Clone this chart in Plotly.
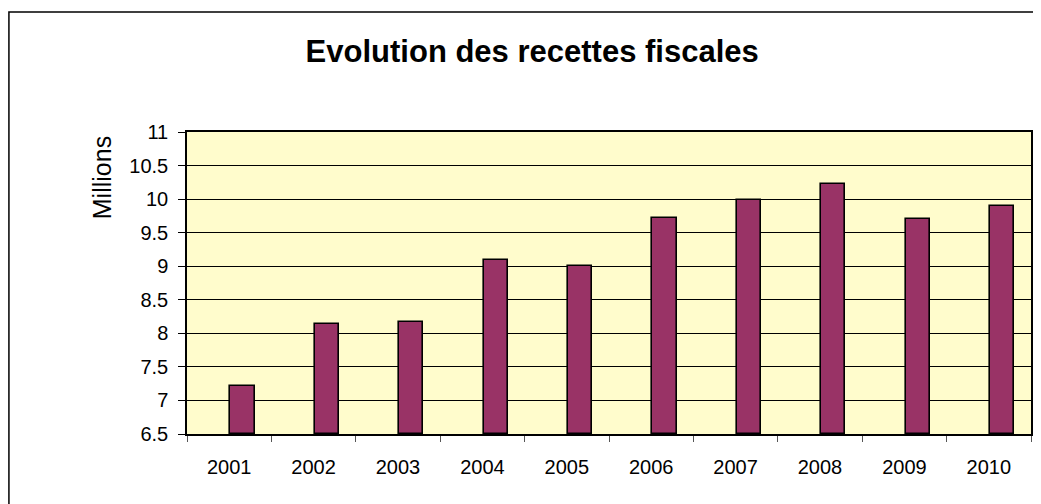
import plotly.graph_objects as go

years = ["2001", "2002", "2003", "2004", "2005", "2006", "2007", "2008", "2009", "2010"]
recettes = [7.22, 8.14, 8.17, 9.10, 9.01, 9.72, 9.99, 10.23, 9.70, 9.90]
y_base = 6.5
y_ticks = [6.5, 7, 7.5, 8, 8.5, 9, 9.5, 10, 10.5, 11]
y_tick_labels = ["6.5", "7", "7.5", "8", "8.5", "9", "9.5", "10", "10.5", "11"]

# page body has an 8px margin, so the figure is drawn at (8, 8)
W, H = 1033, 496
L, R, T, B = 179, 8, 124, 70
pw, ph = W - L - R, H - T - B

fig = go.Figure()
fig.add_trace(go.Bar(
    x=years, y=[v - y_base for v in recettes],
    base=y_base,
    width=0.285, offset=0.015,
    marker=dict(color="#993366", line=dict(color="black", width=1.6)),
    hovertemplate="%{x}: %{customdata}<extra></extra>", customdata=recettes,
))

font = "Arial, Liberation Sans, sans-serif"
fig.update_layout(
    width=W, height=H,
    margin=dict(l=L, r=R, t=T, b=B),
    paper_bgcolor="white",
    plot_bgcolor="#FFFCCC",
    showlegend=False,
    bargap=0,
    font=dict(family=font, color="black"),
    title=dict(text="<b>Evolution des recettes fiscales</b>", font=dict(size=31, family=font, color="black"),
               x=(525 - L) / pw, xref="paper", xanchor="center", y=1 - 43 / H, yanchor="middle"),
)
fig.update_xaxes(
    type="category", tickson="boundaries", ticks="outside", ticklen=6, tickcolor="#555555",
    showline=True, linecolor="black", linewidth=1.5, mirror=True,
    showgrid=False, tickfont=dict(size=20, family=font), ticklabelstandoff=14,
)
fig.update_yaxes(
    range=[6.5, 11], tickvals=y_ticks, ticktext=y_tick_labels,
    ticks="outside", ticklen=7, tickcolor="black",
    showline=True, linecolor="black", linewidth=1.5, mirror=True,
    showgrid=True, gridcolor="black", gridwidth=1.2,
    tickfont=dict(size=20, family=font), ticklabelstandoff=6, zeroline=False,
)
fig.add_annotation(text="Millions", textangle=-90, xref="paper", yref="paper",
                   x=(94 - L) / pw, y=(426 - 170) / ph, xanchor="center", yanchor="middle",
                   showarrow=False, font=dict(size=25, family=font, color="black"))
# outer chart border
fig.add_shape(type="rect", xref="paper", yref="paper",
              x0=(0.5 - L) / pw, x1=(1045 - L) / pw, y0=(426 - 515) / ph, y1=(426 - 4) / ph,
              line=dict(color="black", width=1.5), fillcolor="rgba(0,0,0,0)", layer="below")

fig.write_html("out.html")
